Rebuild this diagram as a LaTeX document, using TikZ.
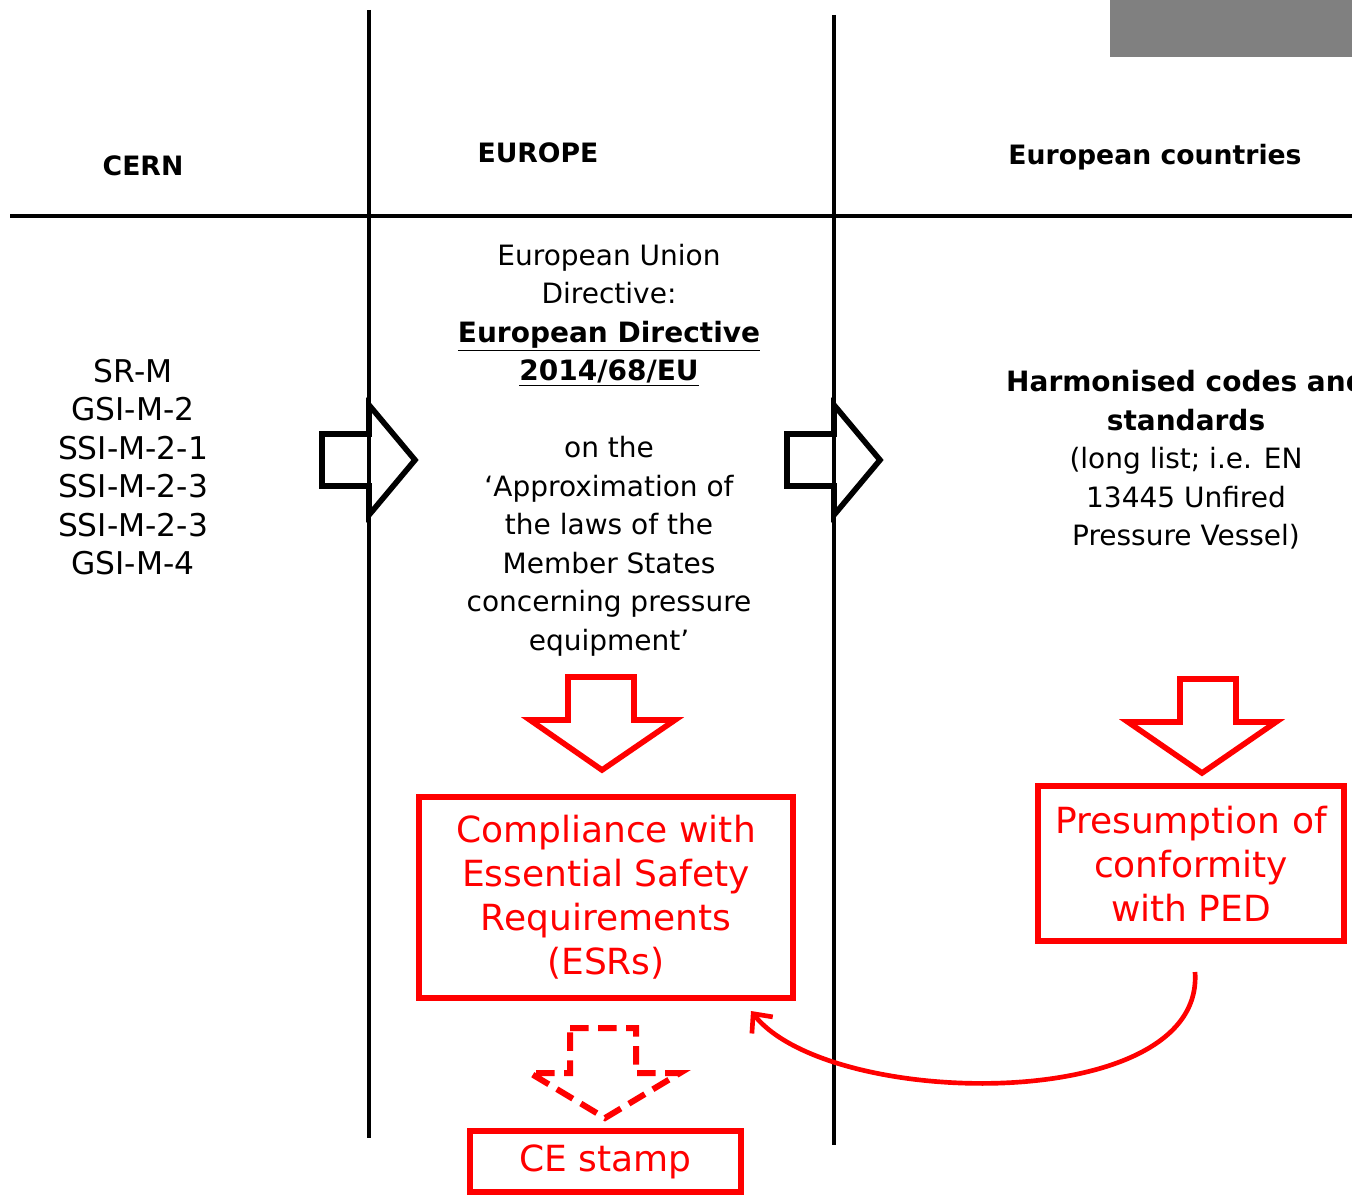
\documentclass[tikz,border=0pt]{standalone}
\usepackage{fontspec}
\setmainfont{DejaVu Sans}
\usetikzlibrary{arrows.meta}
\definecolor{pred}{RGB}{255,0,0}
\definecolor{pgrey}{RGB}{128,128,128}
\tikzset{
  blk/.style={line width=3.5pt,black},
  hdr/.style={font=\fontsize{20}{24}\selectfont\bfseries,inner sep=0pt},
  body/.style={font=\fontsize{21}{28.9}\selectfont,align=center,inner sep=0pt},
  redbox/.style={draw=pred,line width=5pt,text=pred,align=center,inner sep=0pt,
    font=\fontsize{27}{33}\selectfont},
  blockarrow/.style={line width=4.2pt,line join=miter,fill=white},
  redarrow/.style={draw=pred,line width=4.2pt,line join=miter,fill=white},
}
\begin{document}
\begin{tikzpicture}[x=0.75pt,y=-0.75pt]
\useasboundingbox (0,0) rectangle (1352,1195);
% grey tab
\fill[pgrey] (1110,0) rectangle (1352,57);
% grid lines
\coordinate (v1t) at (369,10); \coordinate (v1b) at (369,1138);
\coordinate (v2t) at (834,15); \coordinate (v2b) at (834,1145);
\coordinate (hl) at (10,216); \coordinate (hr) at (1352,216);
\draw[blk] (hl) -- (hr);
% headers
\node[hdr] (cern) at (143,166) {CERN};
\node[hdr] (europe) at (538,153) {EUROPE};
\node[hdr] (countries) at (1155,157) {European countries};
% left list
\node[body,font=\fontsize{23.5}{28.9}\selectfont] (cernlist) at (133,467) {SR-M\\GSI-M-2\\SSI-M-2-1\\SSI-M-2-3\\SSI-M-2-3\\GSI-M-4};
% middle text
\node[body] (ped) at (609,450) {European Union\\Directive:\\\textbf{\underline{European Directive}}\\\textbf{\underline{2014/68/EU}}\\[28.9pt]on the\\`Approximation of\\the laws of the\\Member States\\concerning pressure\\equipment'};
% right text
\node[body] (harm) at (1186,460) {\textbf{Harmonised codes and}\\\textbf{standards}\\(long list; i.e. EN\\13445 Unfired\\Pressure Vessel)};
% black block arrows
\draw[blockarrow] (322,434) -- (369,434) -- (369,405) -- (415,460) -- (369,515) -- (369,486) -- (322,486) -- cycle;
\draw[blockarrow] (787,434) -- (834,434) -- (834,405) -- (880,460) -- (834,515) -- (834,486) -- (787,486) -- cycle;
\draw[blk] (v1t) -- (v1b);
\draw[blk] (v2t) -- (v2b);
% red arrows
\draw[redarrow] (568,677) -- (634,677) -- (634,720) -- (675,720) -- (602,770) -- (530,720) -- (568,720) -- cycle;
\draw[redarrow] (1180,679) -- (1236,679) -- (1236,722) -- (1276,722) -- (1202,773) -- (1128,722) -- (1180,722) -- cycle;
\draw[redarrow,dash pattern=on 14pt off 7pt,line width=4.5pt] (570,1028) -- (636,1028) -- (636,1073) -- (680,1073) -- (605,1118) -- (530,1073) -- (570,1073) -- cycle;
% red boxes
\node[redbox,minimum width=280.5pt,minimum height=150.75pt] (esr) at (606,897.5) {Compliance with\\Essential Safety\\Requirements\\(ESRs)};
\node[redbox,minimum width=229.5pt,minimum height=116.25pt] (presum) at (1191,863.5) {Presumption of\\conformity\\with PED};
\node[redbox,minimum width=203.25pt,minimum height=45.75pt] (ce) at (605.5,1161.5) {CE stamp};
% curved connector
\coordinate (cs) at (1195,972);
\coordinate (cend) at (751,1011);
\draw[draw=pred,line width=3.5pt,-{Straight Barb[length=11pt,width=20pt,line width=3.5pt]}] (cs) .. controls (1205,1115) and (830,1110) .. (cend);
\end{tikzpicture}
\end{document}
